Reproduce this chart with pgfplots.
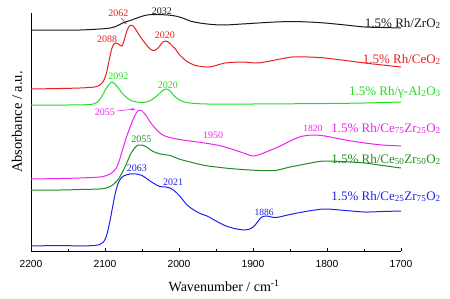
\documentclass[border=0pt]{standalone}
\usepackage{pgfplots}
\pgfplotsset{compat=1.18}
\usepackage{fontspec}
\setmainfont{Liberation Serif}
\newfontfamily\sfont{Liberation Sans}
\usetikzlibrary{calc,arrows.meta}
\definecolor{cblack}{HTML}{1A1A1A}
\definecolor{cred}{HTML}{E82020}
\definecolor{cgreen}{HTML}{22DD22}
\definecolor{cmag}{HTML}{EE22EE}
\definecolor{cdgreen}{HTML}{228B22}
\definecolor{cblue}{HTML}{2222EE}
\begin{document}
\begin{tikzpicture}
\begin{axis}[
  name=ax,
  scale only axis,
  width=370pt, height=238pt,
  xmin=1700, xmax=2200, x dir=reverse,
  ymin=0, ymax=238,
  axis x line*=bottom, axis y line*=left,
  axis line style={-, line width=0.8pt},
  ytick=\empty,
  xtick={1700,1800,1900,2000,2100,2200},
  minor x tick num=1,
  tick align=inside,
  major tick length=3pt, minor tick length=2pt,
  tick style={line width=0.6pt, black},
  scaled x ticks=false,
  /pgf/number format/1000 sep={},
  /pgf/number format/assume math mode=true,
  xticklabel style={font=\fontsize{10.3}{12}\sfont, yshift=-6pt},
  clip=false,
  every axis plot/.append style={line width=1pt, smooth, tension=0.5, mark=none},
]
% 1.5% Rh/ZrO2
\addplot[cblack] coordinates {(2200,221)(2160,221)(2134,221)(2107,222)(2093,223)(2084,225)(2076,228)(2064,231)(2053,234)(2043,236)(2030,236.5)(2015,236)(2005,235)(1995,233)(1985,230)(1972,228)(1955,226.5)(1938,226)(1915,227)(1893,228)(1870,229)(1847,229.5)(1825,229)(1803,228)(1775,226)(1749,224)(1725,223.5)(1700,223)};
% 1.5% Rh/CeO2
\addplot[cred] coordinates {(2200,162)(2160,162.5)(2134,163)(2114,164)(2107,166)(2102,170)(2098,178)(2094,192)(2091,202)(2088,207)(2085,208)(2081,206.5)(2077,205)(2074,211)(2070,221)(2066,225.5)(2062,225)(2058,221)(2053,215)(2045,207)(2039,202)(2033,200.5)(2027,204)(2022,209)(2018,210)(2013,208)(2005,202)(1999,196)(1990,190)(1980,186)(1970,184.5)(1960,184)(1950,185.5)(1938,188)(1915,189)(1893,188)(1870,191)(1847,194)(1825,194)(1803,193)(1775,190.5)(1749,188)(1725,186)(1700,184)};
% 1.5% Rh/Al2O3
\addplot[cgreen] coordinates {(2200,146)(2150,146)(2120,146.5)(2110,149)(2104,155)(2098,163)(2092,168.5)(2088,168)(2083,164)(2077,158)(2070,153)(2063,150)(2050,148.5)(2040,150)(2030,155)(2022,160.5)(2017,162)(2012,160)(2005,154)(1995,149.5)(1985,148)(1962,147)(1900,147)(1800,147.5)(1749,148)(1700,149)};
% Ce75Zr25
\addplot[cmag] coordinates {(2200,72)(2160,72.5)(2134,73)(2107,74)(2098,75.5)(2093,77)(2088,80)(2084,84)(2080,92)(2076,102)(2071,114)(2066,124)(2060,135)(2055,140.5)(2050,140)(2044,135)(2039,129)(2030,121)(2022,116)(2010,113)(1995,111)(1970,108.5)(1949,106)(1938,104)(1925,101)(1911,97.5)(1901,95)(1893,96)(1884,98.5)(1866,104)(1847,111)(1835,114.5)(1820,116)(1803,115)(1775,111)(1749,108)(1725,106)(1700,105)};
% Ce50Zr50
\addplot[cdgreen] coordinates {(2200,61)(2160,61)(2134,61.5)(2107,62)(2098,63)(2093,64.5)(2088,67)(2084,70)(2080,74)(2075,81)(2070,89)(2066,96)(2060,103)(2055,106)(2050,106)(2044,104)(2035,99.5)(2025,97)(2012,95.5)(2000,92)(1985,89)(1965,85.5)(1949,84)(1938,83)(1915,81.5)(1890,80.5)(1870,80.5)(1850,84)(1836,86)(1815,89)(1803,90)(1780,89.5)(1749,88)(1725,85.5)(1700,83)};
% Ce25Zr75
\addplot[cblue] coordinates {(2200,5)(2160,5.5)(2134,5)(2115,5.5)(2107,6.5)(2102,9)(2098,15)(2095,24)(2092,35)(2089,47)(2086,58)(2083,66)(2080,71)(2075,75)(2066,77)(2058,77)(2050,75.5)(2042,71.5)(2035,68)(2026,64.5)(2018,64)(2012,63)(2006,60)(1999,55)(1989,46)(1980,41)(1970,37)(1962,35)(1950,30)(1938,25.5)(1925,22.5)(1911,21)(1903,22.5)(1897,26)(1892,31)(1888,34)(1882,35)(1875,34)(1868,33.5)(1850,36.5)(1825,40)(1803,42)(1775,40.5)(1749,39)(1725,39.5)(1700,40)};

% series labels
\node[anchor=base east, text=cblack, inner sep=0pt] at (axis cs:1646,224) {\fontsize{13}{15}\selectfont 1.5\% Rh/ZrO\textsubscript{2}};
\node[anchor=base east, text=cred, inner sep=0pt] at (axis cs:1646,188) {\fontsize{13}{15}\selectfont 1.5\% Rh/CeO\textsubscript{2}};
\node[anchor=base east, text=cgreen, inner sep=0pt] at (axis cs:1646,156) {\fontsize{13}{15}\selectfont 1.5\% Rh/γ-Al\textsubscript{2}O\textsubscript{3}};
\node[anchor=base east, text=cmag, inner sep=0pt] at (axis cs:1646,119) {\fontsize{13}{15}\selectfont 1.5\% Rh/Ce\textsubscript{75}Zr\textsubscript{25}O\textsubscript{2}};
\node[anchor=base east, text=cdgreen, inner sep=0pt] at (axis cs:1646,88) {\fontsize{13}{15}\selectfont 1.5\% Rh/Ce\textsubscript{50}Zr\textsubscript{50}O\textsubscript{2}};
\node[anchor=base east, text=cblue, inner sep=0pt] at (axis cs:1646,51) {\fontsize{13}{15}\selectfont 1.5\% Rh/Ce\textsubscript{25}Zr\textsubscript{75}O\textsubscript{2}};

% peak labels
\node[text=cblack, inner sep=0pt] at (axis cs:2023,240) {\fontsize{10}{12}\selectfont 2032};
\node[text=cred, inner sep=0pt] at (axis cs:2082,238) {\fontsize{10}{12}\selectfont 2062};
\draw[cred, line width=0.6pt, -{Stealth[length=3pt,width=3pt]}] (axis cs:2078,233) -- (axis cs:2071,227);
\node[text=cred, inner sep=0pt] at (axis cs:2097,212) {\fontsize{10}{12}\selectfont 2088};
\node[text=cred, inner sep=0pt] at (axis cs:2019,216) {\fontsize{10}{12}\selectfont 2020};
\node[text=cgreen, inner sep=0pt] at (axis cs:2082,175) {\fontsize{10}{12}\selectfont 2092};
\node[text=cgreen, inner sep=0pt] at (axis cs:2015,166) {\fontsize{10}{12}\selectfont 2020};
\node[text=cmag, inner sep=0pt] at (axis cs:2100,139) {\fontsize{10}{12}\selectfont 2055};
\draw[cmag, line width=0.6pt, -{Stealth[length=4pt,width=3pt]}] (axis cs:2084,140) -- (axis cs:2059,142);
\node[text=cmag, inner sep=0pt] at (axis cs:1954,116) {\fontsize{10}{12}\selectfont 1950};
\node[text=cmag, inner sep=0pt] at (axis cs:1819,123) {\fontsize{9.5}{11}\selectfont 1820};
\node[text=cdgreen, inner sep=0pt] at (axis cs:2051,112) {\fontsize{10}{12}\selectfont 2055};
\node[text=cblue, inner sep=0pt] at (axis cs:2057,83) {\fontsize{10}{12}\selectfont 2063};
\node[text=cblue, inner sep=0pt] at (axis cs:2008,69) {\fontsize{10}{12}\selectfont 2021};
\node[text=cblue, inner sep=0pt] at (axis cs:1885,39) {\fontsize{9.5}{11}\selectfont 1886};

% axis labels
\node[rotate=90, inner sep=0pt] at (axis cs:2219,129) {\fontsize{14.5}{16}\selectfont Absorbance / a.u.};
\node[inner sep=0pt] at (axis cs:1939,-35) {\fontsize{14}{16}\selectfont Wavenumber / cm\textsuperscript{-1}};
\end{axis}
\pgfresetboundingbox
\path[use as bounding box] ($(ax.south west)+(-31pt,-47pt)$) rectangle ($(ax.south west)+(419pt,251pt)$);
\end{tikzpicture}
\end{document}
